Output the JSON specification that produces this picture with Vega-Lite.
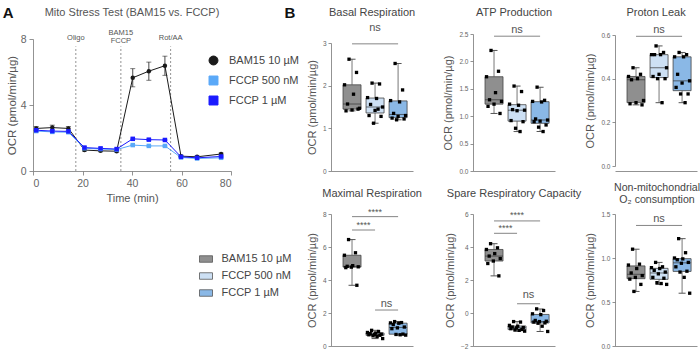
{
"$schema": "https://vega.github.io/schema/vega-lite/v6.json",
"padding": {"left": 2, "top": 5, "right": 2, "bottom": 3},
"config": {"font": "Liberation Sans", "view": {"stroke": null},
  "axis": {"grid": false, "domainColor": "#777", "tickColor": "#777", "labelColor": "#666", "titleColor": "#555", "titleFontWeight": "normal", "domainWidth": 0.8, "tickWidth": 0.8, "labelOverlap": false}},
"datasets": {
"one": [{"k": 1}],
"legendgroups": [{"g": "BAM15 10 µM"}, {"g": "FCCP 500 nM"}, {"g": "FCCP 1 µM"}],
"series": [
{"s":"BAM15 10 µM","t":1.3,"ocr":2.58,"sem":0.12},{"s":"BAM15 10 µM","t":7.8,"ocr":2.63,"sem":0.15},{"s":"BAM15 10 µM","t":14.3,"ocr":2.58,"sem":0.12},{"s":"BAM15 10 µM","t":20.8,"ocr":1.27,"sem":0.06},{"s":"BAM15 10 µM","t":27.3,"ocr":1.22,"sem":0.05},{"s":"BAM15 10 µM","t":33.8,"ocr":1.2,"sem":0.05},{"s":"BAM15 10 µM","t":40.3,"ocr":5.65,"sem":0.55},{"s":"BAM15 10 µM","t":46.8,"ocr":6.05,"sem":0.55},{"s":"BAM15 10 µM","t":53.3,"ocr":6.38,"sem":0.58},{"s":"BAM15 10 µM","t":59.8,"ocr":0.9,"sem":0.05},{"s":"BAM15 10 µM","t":66.3,"ocr":0.86,"sem":0.05},{"s":"BAM15 10 µM","t":76.0,"ocr":1.03,"sem":0.06},
{"s":"FCCP 500 nM","t":1.3,"ocr":2.42,"sem":0.04},{"s":"FCCP 500 nM","t":7.8,"ocr":2.37,"sem":0.04},{"s":"FCCP 500 nM","t":14.3,"ocr":2.35,"sem":0.04},{"s":"FCCP 500 nM","t":20.8,"ocr":1.38,"sem":0.04},{"s":"FCCP 500 nM","t":27.3,"ocr":1.33,"sem":0.04},{"s":"FCCP 500 nM","t":33.8,"ocr":1.3,"sem":0.04},{"s":"FCCP 500 nM","t":40.3,"ocr":1.57,"sem":0.04},{"s":"FCCP 500 nM","t":46.8,"ocr":1.52,"sem":0.04},{"s":"FCCP 500 nM","t":53.3,"ocr":1.52,"sem":0.04},{"s":"FCCP 500 nM","t":59.8,"ocr":0.82,"sem":0.03},{"s":"FCCP 500 nM","t":66.3,"ocr":0.76,"sem":0.03},{"s":"FCCP 500 nM","t":76.0,"ocr":0.8,"sem":0.03},
{"s":"FCCP 1 µM","t":1.3,"ocr":2.47,"sem":0.04},{"s":"FCCP 1 µM","t":7.8,"ocr":2.42,"sem":0.04},{"s":"FCCP 1 µM","t":14.3,"ocr":2.4,"sem":0.04},{"s":"FCCP 1 µM","t":20.8,"ocr":1.42,"sem":0.04},{"s":"FCCP 1 µM","t":27.3,"ocr":1.37,"sem":0.04},{"s":"FCCP 1 µM","t":33.8,"ocr":1.33,"sem":0.04},{"s":"FCCP 1 µM","t":40.3,"ocr":1.95,"sem":0.04},{"s":"FCCP 1 µM","t":46.8,"ocr":1.9,"sem":0.04},{"s":"FCCP 1 µM","t":53.3,"ocr":1.88,"sem":0.04},{"s":"FCCP 1 µM","t":59.8,"ocr":0.86,"sem":0.03},{"s":"FCCP 1 µM","t":66.3,"ocr":0.8,"sem":0.03},{"s":"FCCP 1 µM","t":76.0,"ocr":0.88,"sem":0.03}
],
"boxes": [
{"m":"Basal","g":"BAM15 10 µM","r":4,"v":2.62},{"m":"Basal","g":"BAM15 10 µM","r":9,"v":2.31},{"m":"Basal","g":"BAM15 10 µM","r":1,"v":2.02},{"m":"Basal","g":"BAM15 10 µM","r":7,"v":1.8},{"m":"Basal","g":"BAM15 10 µM","r":3,"v":1.57},{"m":"Basal","g":"BAM15 10 µM","r":11,"v":1.47},{"m":"Basal","g":"BAM15 10 µM","r":6,"v":1.43},{"m":"Basal","g":"BAM15 10 µM","r":2,"v":1.41},{"m":"Basal","g":"BAM15 10 µM","r":10,"v":1.45},
{"m":"Basal","g":"FCCP 500 nM","r":4,"v":2.06},{"m":"Basal","g":"FCCP 500 nM","r":9,"v":2.04},{"m":"Basal","g":"FCCP 500 nM","r":1,"v":1.72},{"m":"Basal","g":"FCCP 500 nM","r":7,"v":1.7},{"m":"Basal","g":"FCCP 500 nM","r":3,"v":1.56},{"m":"Basal","g":"FCCP 500 nM","r":11,"v":1.5},{"m":"Basal","g":"FCCP 500 nM","r":6,"v":1.42},{"m":"Basal","g":"FCCP 500 nM","r":2,"v":1.3},{"m":"Basal","g":"FCCP 500 nM","r":10,"v":1.28},{"m":"Basal","g":"FCCP 500 nM","r":5,"v":1.12},{"m":"Basal","g":"FCCP 500 nM","r":8,"v":1.45},
{"m":"Basal","g":"FCCP 1 µM","r":4,"v":2.52},{"m":"Basal","g":"FCCP 1 µM","r":9,"v":1.9},{"m":"Basal","g":"FCCP 1 µM","r":1,"v":1.65},{"m":"Basal","g":"FCCP 1 µM","r":7,"v":1.62},{"m":"Basal","g":"FCCP 1 µM","r":3,"v":1.35},{"m":"Basal","g":"FCCP 1 µM","r":11,"v":1.3},{"m":"Basal","g":"FCCP 1 µM","r":6,"v":1.28},{"m":"Basal","g":"FCCP 1 µM","r":2,"v":1.24},{"m":"Basal","g":"FCCP 1 µM","r":10,"v":1.22},{"m":"Basal","g":"FCCP 1 µM","r":5,"v":1.2},
{"m":"ATP","g":"BAM15 10 µM","r":4,"v":2.2},{"m":"ATP","g":"BAM15 10 µM","r":9,"v":1.82},{"m":"ATP","g":"BAM15 10 µM","r":1,"v":1.72},{"m":"ATP","g":"BAM15 10 µM","r":7,"v":1.43},{"m":"ATP","g":"BAM15 10 µM","r":3,"v":1.3},{"m":"ATP","g":"BAM15 10 µM","r":11,"v":1.27},{"m":"ATP","g":"BAM15 10 µM","r":6,"v":1.22},{"m":"ATP","g":"BAM15 10 µM","r":2,"v":1.18},{"m":"ATP","g":"BAM15 10 µM","r":10,"v":1.05},
{"m":"ATP","g":"FCCP 500 nM","r":4,"v":1.55},{"m":"ATP","g":"FCCP 500 nM","r":9,"v":1.45},{"m":"ATP","g":"FCCP 500 nM","r":1,"v":1.22},{"m":"ATP","g":"FCCP 500 nM","r":7,"v":1.2},{"m":"ATP","g":"FCCP 500 nM","r":3,"v":1.12},{"m":"ATP","g":"FCCP 500 nM","r":11,"v":1.11},{"m":"ATP","g":"FCCP 500 nM","r":6,"v":1.1},{"m":"ATP","g":"FCCP 500 nM","r":2,"v":0.92},{"m":"ATP","g":"FCCP 500 nM","r":10,"v":0.9},{"m":"ATP","g":"FCCP 500 nM","r":5,"v":0.78},{"m":"ATP","g":"FCCP 500 nM","r":8,"v":0.72},
{"m":"ATP","g":"FCCP 1 µM","r":4,"v":1.53},{"m":"ATP","g":"FCCP 1 µM","r":9,"v":1.29},{"m":"ATP","g":"FCCP 1 µM","r":1,"v":1.27},{"m":"ATP","g":"FCCP 1 µM","r":7,"v":1.26},{"m":"ATP","g":"FCCP 1 µM","r":3,"v":0.95},{"m":"ATP","g":"FCCP 1 µM","r":11,"v":0.93},{"m":"ATP","g":"FCCP 1 µM","r":6,"v":0.91},{"m":"ATP","g":"FCCP 1 µM","r":2,"v":0.9},{"m":"ATP","g":"FCCP 1 µM","r":10,"v":0.84},{"m":"ATP","g":"FCCP 1 µM","r":5,"v":0.8},{"m":"ATP","g":"FCCP 1 µM","r":8,"v":0.72},
{"m":"Leak","g":"BAM15 10 µM","r":4,"v":0.45},{"m":"Leak","g":"BAM15 10 µM","r":9,"v":0.42},{"m":"Leak","g":"BAM15 10 µM","r":1,"v":0.41},{"m":"Leak","g":"BAM15 10 µM","r":7,"v":0.4},{"m":"Leak","g":"BAM15 10 µM","r":3,"v":0.395},{"m":"Leak","g":"BAM15 10 µM","r":11,"v":0.3},{"m":"Leak","g":"BAM15 10 µM","r":6,"v":0.29},{"m":"Leak","g":"BAM15 10 µM","r":2,"v":0.285},{"m":"Leak","g":"BAM15 10 µM","r":10,"v":0.28},
{"m":"Leak","g":"FCCP 500 nM","r":4,"v":0.55},{"m":"Leak","g":"FCCP 500 nM","r":9,"v":0.52},{"m":"Leak","g":"FCCP 500 nM","r":1,"v":0.51},{"m":"Leak","g":"FCCP 500 nM","r":7,"v":0.51},{"m":"Leak","g":"FCCP 500 nM","r":3,"v":0.51},{"m":"Leak","g":"FCCP 500 nM","r":11,"v":0.45},{"m":"Leak","g":"FCCP 500 nM","r":6,"v":0.42},{"m":"Leak","g":"FCCP 500 nM","r":2,"v":0.41},{"m":"Leak","g":"FCCP 500 nM","r":10,"v":0.4},{"m":"Leak","g":"FCCP 500 nM","r":5,"v":0.4},{"m":"Leak","g":"FCCP 500 nM","r":8,"v":0.29},
{"m":"Leak","g":"FCCP 1 µM","r":4,"v":0.52},{"m":"Leak","g":"FCCP 1 µM","r":9,"v":0.51},{"m":"Leak","g":"FCCP 1 µM","r":1,"v":0.5},{"m":"Leak","g":"FCCP 1 µM","r":7,"v":0.5},{"m":"Leak","g":"FCCP 1 µM","r":3,"v":0.42},{"m":"Leak","g":"FCCP 1 µM","r":11,"v":0.39},{"m":"Leak","g":"FCCP 1 µM","r":6,"v":0.38},{"m":"Leak","g":"FCCP 1 µM","r":2,"v":0.36},{"m":"Leak","g":"FCCP 1 µM","r":10,"v":0.33},{"m":"Leak","g":"FCCP 1 µM","r":5,"v":0.33},{"m":"Leak","g":"FCCP 1 µM","r":8,"v":0.29},
{"m":"Max","g":"BAM15 10 µM","r":4,"v":6.45},{"m":"Max","g":"BAM15 10 µM","r":9,"v":5.65},{"m":"Max","g":"BAM15 10 µM","r":1,"v":5.5},{"m":"Max","g":"BAM15 10 µM","r":7,"v":4.87},{"m":"Max","g":"BAM15 10 µM","r":3,"v":4.83},{"m":"Max","g":"BAM15 10 µM","r":11,"v":4.8},{"m":"Max","g":"BAM15 10 µM","r":6,"v":4.78},{"m":"Max","g":"BAM15 10 µM","r":2,"v":4.75},{"m":"Max","g":"BAM15 10 µM","r":10,"v":3.68},
{"m":"Max","g":"FCCP 500 nM","r":4,"v":0.95},{"m":"Max","g":"FCCP 500 nM","r":9,"v":0.88},{"m":"Max","g":"FCCP 500 nM","r":1,"v":0.82},{"m":"Max","g":"FCCP 500 nM","r":7,"v":0.78},{"m":"Max","g":"FCCP 500 nM","r":3,"v":0.75},{"m":"Max","g":"FCCP 500 nM","r":11,"v":0.72},{"m":"Max","g":"FCCP 500 nM","r":6,"v":0.7},{"m":"Max","g":"FCCP 500 nM","r":2,"v":0.68},{"m":"Max","g":"FCCP 500 nM","r":10,"v":0.65},{"m":"Max","g":"FCCP 500 nM","r":5,"v":0.62},{"m":"Max","g":"FCCP 500 nM","r":8,"v":0.58},{"m":"Max","g":"FCCP 500 nM","r":12,"v":0.45},
{"m":"Max","g":"FCCP 1 µM","r":4,"v":1.48},{"m":"Max","g":"FCCP 1 µM","r":9,"v":1.42},{"m":"Max","g":"FCCP 1 µM","r":1,"v":1.4},{"m":"Max","g":"FCCP 1 µM","r":7,"v":1.38},{"m":"Max","g":"FCCP 1 µM","r":3,"v":1.3},{"m":"Max","g":"FCCP 1 µM","r":11,"v":1.15},{"m":"Max","g":"FCCP 1 µM","r":6,"v":1.1},{"m":"Max","g":"FCCP 1 µM","r":2,"v":1.05},{"m":"Max","g":"FCCP 1 µM","r":10,"v":0.72},{"m":"Max","g":"FCCP 1 µM","r":5,"v":0.7},{"m":"Max","g":"FCCP 1 µM","r":8,"v":0.68},{"m":"Max","g":"FCCP 1 µM","r":12,"v":0.66},
{"m":"Spare","g":"BAM15 10 µM","r":4,"v":4.2},{"m":"Spare","g":"BAM15 10 µM","r":9,"v":3.95},{"m":"Spare","g":"BAM15 10 µM","r":1,"v":3.85},{"m":"Spare","g":"BAM15 10 µM","r":7,"v":3.6},{"m":"Spare","g":"BAM15 10 µM","r":3,"v":3.45},{"m":"Spare","g":"BAM15 10 µM","r":11,"v":3.3},{"m":"Spare","g":"BAM15 10 µM","r":6,"v":3.15},{"m":"Spare","g":"BAM15 10 µM","r":2,"v":3.0},{"m":"Spare","g":"BAM15 10 µM","r":10,"v":2.25},
{"m":"Spare","g":"FCCP 500 nM","r":4,"v":-0.52},{"m":"Spare","g":"FCCP 500 nM","r":9,"v":-0.55},{"m":"Spare","g":"FCCP 500 nM","r":1,"v":-0.75},{"m":"Spare","g":"FCCP 500 nM","r":7,"v":-0.8},{"m":"Spare","g":"FCCP 500 nM","r":3,"v":-0.85},{"m":"Spare","g":"FCCP 500 nM","r":11,"v":-0.88},{"m":"Spare","g":"FCCP 500 nM","r":6,"v":-0.9},{"m":"Spare","g":"FCCP 500 nM","r":2,"v":-0.95},{"m":"Spare","g":"FCCP 500 nM","r":10,"v":-1.0},{"m":"Spare","g":"FCCP 500 nM","r":5,"v":-1.02},{"m":"Spare","g":"FCCP 500 nM","r":8,"v":-1.05},{"m":"Spare","g":"FCCP 500 nM","r":12,"v":-1.1},
{"m":"Spare","g":"FCCP 1 µM","r":4,"v":0.25},{"m":"Spare","g":"FCCP 1 µM","r":9,"v":0.15},{"m":"Spare","g":"FCCP 1 µM","r":1,"v":-0.05},{"m":"Spare","g":"FCCP 1 µM","r":7,"v":-0.1},{"m":"Spare","g":"FCCP 1 µM","r":3,"v":-0.45},{"m":"Spare","g":"FCCP 1 µM","r":11,"v":-0.5},{"m":"Spare","g":"FCCP 1 µM","r":6,"v":-0.52},{"m":"Spare","g":"FCCP 1 µM","r":2,"v":-0.55},{"m":"Spare","g":"FCCP 1 µM","r":10,"v":-0.6},{"m":"Spare","g":"FCCP 1 µM","r":5,"v":-0.62},{"m":"Spare","g":"FCCP 1 µM","r":8,"v":-0.8},{"m":"Spare","g":"FCCP 1 µM","r":12,"v":-1.12},
{"m":"NonMito","g":"BAM15 10 µM","r":4,"v":1.1},{"m":"NonMito","g":"BAM15 10 µM","r":9,"v":0.93},{"m":"NonMito","g":"BAM15 10 µM","r":1,"v":0.92},{"m":"NonMito","g":"BAM15 10 µM","r":7,"v":0.88},{"m":"NonMito","g":"BAM15 10 µM","r":3,"v":0.83},{"m":"NonMito","g":"BAM15 10 µM","r":11,"v":0.8},{"m":"NonMito","g":"BAM15 10 µM","r":6,"v":0.78},{"m":"NonMito","g":"BAM15 10 µM","r":2,"v":0.76},{"m":"NonMito","g":"BAM15 10 µM","r":10,"v":0.7},{"m":"NonMito","g":"BAM15 10 µM","r":5,"v":0.62},
{"m":"NonMito","g":"FCCP 500 nM","r":4,"v":0.95},{"m":"NonMito","g":"FCCP 500 nM","r":9,"v":0.9},{"m":"NonMito","g":"FCCP 500 nM","r":1,"v":0.89},{"m":"NonMito","g":"FCCP 500 nM","r":7,"v":0.88},{"m":"NonMito","g":"FCCP 500 nM","r":3,"v":0.86},{"m":"NonMito","g":"FCCP 500 nM","r":11,"v":0.84},{"m":"NonMito","g":"FCCP 500 nM","r":6,"v":0.82},{"m":"NonMito","g":"FCCP 500 nM","r":2,"v":0.78},{"m":"NonMito","g":"FCCP 500 nM","r":10,"v":0.77},{"m":"NonMito","g":"FCCP 500 nM","r":5,"v":0.72},{"m":"NonMito","g":"FCCP 500 nM","r":8,"v":0.71},{"m":"NonMito","g":"FCCP 500 nM","r":12,"v":0.7},
{"m":"NonMito","g":"FCCP 1 µM","r":4,"v":1.22},{"m":"NonMito","g":"FCCP 1 µM","r":9,"v":1.06},{"m":"NonMito","g":"FCCP 1 µM","r":1,"v":1.0},{"m":"NonMito","g":"FCCP 1 µM","r":7,"v":0.99},{"m":"NonMito","g":"FCCP 1 µM","r":3,"v":0.98},{"m":"NonMito","g":"FCCP 1 µM","r":11,"v":0.95},{"m":"NonMito","g":"FCCP 1 µM","r":6,"v":0.94},{"m":"NonMito","g":"FCCP 1 µM","r":2,"v":0.9},{"m":"NonMito","g":"FCCP 1 µM","r":10,"v":0.85},{"m":"NonMito","g":"FCCP 1 µM","r":5,"v":0.84},{"m":"NonMito","g":"FCCP 1 µM","r":8,"v":0.78},{"m":"NonMito","g":"FCCP 1 µM","r":12,"v":0.6}
]
},
"columns": 4,
"bounds": "flush",
"align": "each",
"spacing": {"row": 43, "column": 60},
"resolve": {"scale": {"color": "independent", "x": "independent", "y": "independent", "shape": "independent", "xOffset": "independent"}, "legend": {"color": "independent", "shape": "independent"}},
"concat": [
{
 "width": 238, "height": 137,
 "layer": [
  {"data": {"name": "one"}, "mark": {"type": "rule", "strokeDash": [2, 2], "color": "#777", "strokeWidth": 0.8}, "encoding": {"x": {"datum": 17.3, "type": "quantitative", "scale": {"domain": [0, 80], "range": [0, 198], "nice": false}}, "y": {"datum": 0, "type": "quantitative", "scale": {"domain": [0, 8], "range": [137, 5], "nice": false}}, "y2": {"datum": 7.55}}},
  {"data": {"name": "one"}, "mark": {"type": "rule", "strokeDash": [2, 2], "color": "#777", "strokeWidth": 0.8}, "encoding": {"x": {"datum": 35.5, "type": "quantitative"}, "y": {"datum": 0, "type": "quantitative"}, "y2": {"datum": 7.55}}},
  {"data": {"name": "one"}, "mark": {"type": "rule", "strokeDash": [2, 2], "color": "#777", "strokeWidth": 0.8}, "encoding": {"x": {"datum": 55.6, "type": "quantitative"}, "y": {"datum": 0, "type": "quantitative"}, "y2": {"datum": 7.55}}},
  {"data": {"name": "one"}, "mark": {"type": "text", "text": "Oligo", "fontSize": 7.5, "color": "#555", "baseline": "middle"}, "encoding": {"x": {"datum": 17.3, "type": "quantitative"}, "y": {"datum": 8.06, "type": "quantitative"}}},
  {"data": {"name": "one"}, "mark": {"type": "text", "text": "BAM15", "fontSize": 7.5, "color": "#555", "baseline": "middle"}, "encoding": {"x": {"datum": 35.5, "type": "quantitative"}, "y": {"datum": 8.35, "type": "quantitative"}}},
  {"data": {"name": "one"}, "mark": {"type": "text", "text": "FCCP", "fontSize": 7.5, "color": "#555", "baseline": "middle"}, "encoding": {"x": {"datum": 35.5, "type": "quantitative"}, "y": {"datum": 7.85, "type": "quantitative"}}},
  {"data": {"name": "one"}, "mark": {"type": "text", "text": "Rot/AA", "fontSize": 7.5, "color": "#555", "baseline": "middle"}, "encoding": {"x": {"datum": 55.6, "type": "quantitative"}, "y": {"datum": 8.06, "type": "quantitative"}}},
  {"data": {"name": "series"},
   "mark": {"type": "errorbar", "ticks": {"size": 5}, "thickness": 0.8},
   "encoding": {"x": {"field": "t", "type": "quantitative", "title": "Time (min)"}, "y": {"field": "ocr", "type": "quantitative", "title": "OCR (pmol/min/µg)"}, "yError": {"field": "sem"},
     "color": {"field": "s", "type": "nominal", "scale": {"domain": ["BAM15 10 µM", "FCCP 500 nM", "FCCP 1 µM"], "range": ["#1a1a1a", "#5aa9f8", "#1a1aff"]},
     "legend": {"orient": "none", "legendX": 175, "legendY": 21, "title": null, "labelFontSize": 11, "labelColor": "#444", "symbolSize": 80, "symbolStrokeWidth": 1, "rowPadding": 7, "labelOffset": 10,
       "encode": {"symbols": {"update": {
         "shape": [{"test": "datum.value === 'BAM15 10 µM'", "value": "M-1.5,0H1.5M0.45,0A0.45,0.45,0,1,1,-0.45,0A0.45,0.45,0,1,1,0.45,0Z"}, {"value": "M-1.5,0H1.5M-0.45,-0.45H0.45V0.45H-0.45Z"}],
         "fill": [{"test": "datum.value === 'BAM15 10 µM'", "value": "#1a1a1a"}, {"test": "datum.value === 'FCCP 500 nM'", "value": "#5aa9f8"}, {"value": "#1a1aff"}],
         "stroke": [{"test": "datum.value === 'BAM15 10 µM'", "value": "#1a1a1a"}, {"test": "datum.value === 'FCCP 500 nM'", "value": "#5aa9f8"}, {"value": "#1a1aff"}],
         "size": {"value": 80}, "strokeWidth": {"value": 1}, "opacity": {"value": 1}}}}}}}},
  {"data": {"name": "series"},
   "mark": {"type": "line", "strokeWidth": 1},
   "encoding": {
     "x": {"field": "t", "type": "quantitative", "title": "Time (min)", "scale": {"domain": [0, 80], "range": [0, 198], "nice": false}, "axis": {"values": [0, 20, 40, 60, 80], "labelFontSize": 10.5, "titleFontSize": 11, "tickSize": 4, "labelPadding": 3, "titlePadding": 4, "labelOverlap": false}},
     "y": {"field": "ocr", "type": "quantitative", "title": "OCR (pmol/min/µg)", "scale": {"domain": [0, 8], "range": [137, 5], "nice": false}, "axis": {"values": [0, 2, 4, 6, 8], "labelFontSize": 10.5, "titleFontSize": 11.5, "tickSize": 4, "labelPadding": 3, "titlePadding": 3, "labelOverlap": false}},
     "color": {"field": "s", "type": "nominal", "scale": {"domain": ["BAM15 10 µM", "FCCP 500 nM", "FCCP 1 µM"], "range": ["#1a1a1a", "#5aa9f8", "#1a1aff"]},
     "legend": {"orient": "none", "legendX": 175, "legendY": 21, "title": null, "labelFontSize": 11, "labelColor": "#444", "symbolSize": 80, "symbolStrokeWidth": 1, "rowPadding": 7, "labelOffset": 10,
       "encode": {"symbols": {"update": {
         "shape": [{"test": "datum.value === 'BAM15 10 µM'", "value": "M-1.5,0H1.5M0.45,0A0.45,0.45,0,1,1,-0.45,0A0.45,0.45,0,1,1,0.45,0Z"}, {"value": "M-1.5,0H1.5M-0.45,-0.45H0.45V0.45H-0.45Z"}],
         "fill": [{"test": "datum.value === 'BAM15 10 µM'", "value": "#1a1a1a"}, {"test": "datum.value === 'FCCP 500 nM'", "value": "#5aa9f8"}, {"value": "#1a1aff"}],
         "stroke": [{"test": "datum.value === 'BAM15 10 µM'", "value": "#1a1a1a"}, {"test": "datum.value === 'FCCP 500 nM'", "value": "#5aa9f8"}, {"value": "#1a1aff"}],
         "size": {"value": 80}, "strokeWidth": {"value": 1}, "opacity": {"value": 1}}}}}}}},
  {"data": {"name": "series"},
   "mark": {"type": "point", "filled": true, "opacity": 1, "size": 20},
   "encoding": {"x": {"field": "t", "type": "quantitative", "title": "Time (min)"}, "y": {"field": "ocr", "type": "quantitative", "title": "OCR (pmol/min/µg)"},
     "color": {"field": "s", "type": "nominal", "scale": {"domain": ["BAM15 10 µM", "FCCP 500 nM", "FCCP 1 µM"], "range": ["#1a1a1a", "#5aa9f8", "#1a1aff"]},
     "legend": {"orient": "none", "legendX": 175, "legendY": 21, "title": null, "labelFontSize": 11, "labelColor": "#444", "symbolSize": 80, "symbolStrokeWidth": 1, "rowPadding": 7, "labelOffset": 10,
       "encode": {"symbols": {"update": {
         "shape": [{"test": "datum.value === 'BAM15 10 µM'", "value": "M-1.5,0H1.5M0.45,0A0.45,0.45,0,1,1,-0.45,0A0.45,0.45,0,1,1,0.45,0Z"}, {"value": "M-1.5,0H1.5M-0.45,-0.45H0.45V0.45H-0.45Z"}],
         "fill": [{"test": "datum.value === 'BAM15 10 µM'", "value": "#1a1a1a"}, {"test": "datum.value === 'FCCP 500 nM'", "value": "#5aa9f8"}, {"value": "#1a1aff"}],
         "stroke": [{"test": "datum.value === 'BAM15 10 µM'", "value": "#1a1a1a"}, {"test": "datum.value === 'FCCP 500 nM'", "value": "#5aa9f8"}, {"value": "#1a1aff"}],
         "size": {"value": 80}, "strokeWidth": {"value": 1}, "opacity": {"value": 1}}}}}},
     "shape": {"field": "s", "type": "nominal", "scale": {"domain": ["BAM15 10 µM", "FCCP 500 nM", "FCCP 1 µM"], "range": ["circle", "square", "square"]}, "legend": null}}},
  {"data": {"name": "one"}, "mark": {"type": "text", "text": "Mito Stress Test (BAM15 vs. FCCP)", "fontSize": 11, "color": "#555", "baseline": "middle"},
   "encoding": {"x": {"datum": 40, "type": "quantitative"}, "y": {"datum": 9.58, "type": "quantitative"}}},
  {"data": {"name": "one"}, "mark": {"type": "text", "text": "A", "fontSize": 15, "fontWeight": "bold", "color": "#111", "baseline": "middle"},
   "encoding": {"x": {"datum": -10, "type": "quantitative"}, "y": {"datum": 9.6, "type": "quantitative"}}},
  {"data": {"name": "one"}, "mark": {"type": "text", "text": "B", "fontSize": 15, "fontWeight": "bold", "color": "#111", "baseline": "middle"},
   "encoding": {"x": {"datum": 103.8, "type": "quantitative"}, "y": {"datum": 9.6, "type": "quantitative"}}}
 ]
},
{
 "width": 82, "height": 137,
 "layer": [
  {"data": {"name": "boxes"}, "transform": [{"filter": "datum.m === 'Basal'"}],
   "mark": {"type": "boxplot", "extent": "min-max", "size": 18, "box": {"stroke": "#444", "strokeWidth": 0.8}, "median": {"color": "#333", "strokeWidth": 1}, "rule": {"color": "#555", "strokeWidth": 0.8}, "ticks": {"color": "#555", "size": 7}},
   "encoding": {
    "x": {"field": "g", "type": "nominal", "scale": {"domain": ["BAM15 10 µM", "FCCP 500 nM", "FCCP 1 µM"], "paddingInner": 0.22, "paddingOuter": 0.39, "align": 0.67}, "axis": {"labels": false, "ticks": false, "title": null}},
    "y": {"field": "v", "type": "quantitative", "title": "OCR (pmol/min/µg)", "scale": {"domain": [0, 3], "range": [137, 9], "nice": false}, "axis": {"values": [0, 1, 2, 3], "format": "d", "titleFontSize": 11, "labelFontSize": 6.5, "tickSize": 3, "labelPadding": 2, "titlePadding": 5, "labelOverlap": false}},
    "color": {"field": "g", "type": "nominal", "scale": {"domain": ["BAM15 10 µM", "FCCP 500 nM", "FCCP 1 µM"], "range": ["#8f8f8f", "#cde0f4", "#8ab8e6"]}, "legend": null}}},
  {"data": {"name": "boxes"}, "transform": [{"filter": "datum.m === 'Basal'"}],
   "mark": {"type": "square", "size": 11, "color": "#000", "opacity": 1},
   "encoding": {"x": {"field": "g", "type": "nominal"}, "y": {"field": "v", "type": "quantitative", "title": "OCR (pmol/min/µg)", "scale": {"domain": [0, 3], "range": [137, 9], "nice": false}, "axis": {"values": [0, 1, 2, 3], "format": "d", "titleFontSize": 11, "labelFontSize": 6.5, "tickSize": 3, "labelPadding": 2, "titlePadding": 5, "labelOverlap": false}}, "xOffset": {"field": "r", "type": "nominal", "scale": {"paddingOuter": 1.5}}}},
  {"data": {"name": "one"}, "mark": {"type": "rule", "color": "#666", "strokeWidth": 0.8},
   "encoding": {"x": {"datum": "BAM15 10 µM"}, "x2": {"datum": "FCCP 1 µM"}, "y": {"datum": 2.98, "type": "quantitative", "title": "OCR (pmol/min/µg)", "scale": {"domain": [0, 3], "range": [137, 9], "nice": false}, "axis": {"values": [0, 1, 2, 3], "format": "d", "titleFontSize": 11, "labelFontSize": 6.5, "tickSize": 3, "labelPadding": 2, "titlePadding": 5, "labelOverlap": false}}}},
  {"data": {"name": "one"}, "mark": {"type": "text", "text": "ns", "fontSize": 11, "color": "#555", "baseline": "alphabetic"},
   "encoding": {"x": {"datum": "FCCP 500 nM"}, "y": {"datum": 3.27, "type": "quantitative", "title": "OCR (pmol/min/µg)", "scale": {"domain": [0, 3], "range": [137, 9], "nice": false}, "axis": {"values": [0, 1, 2, 3], "format": "d", "titleFontSize": 11, "labelFontSize": 6.5, "tickSize": 3, "labelPadding": 2, "titlePadding": 5, "labelOverlap": false}}}},
  {"data": {"name": "one"}, "mark": {"type": "text", "text": "Basal  Respiration", "fontSize": 11, "color": "#444", "baseline": "middle", "dx": -3},
   "encoding": {"x": {"datum": "FCCP 500 nM"}, "y": {"datum": 3.7, "type": "quantitative", "title": "OCR (pmol/min/µg)", "scale": {"domain": [0, 3], "range": [137, 9], "nice": false}, "axis": {"values": [0, 1, 2, 3], "format": "d", "titleFontSize": 11, "labelFontSize": 6.5, "tickSize": 3, "labelPadding": 2, "titlePadding": 5, "labelOverlap": false}}}}
 ]
},
{
 "width": 82, "height": 137,
 "layer": [
  {"data": {"name": "boxes"}, "transform": [{"filter": "datum.m === 'ATP'"}],
   "mark": {"type": "boxplot", "extent": "min-max", "size": 18, "box": {"stroke": "#444", "strokeWidth": 0.8}, "median": {"color": "#333", "strokeWidth": 1}, "rule": {"color": "#555", "strokeWidth": 0.8}, "ticks": {"color": "#555", "size": 7}},
   "encoding": {
    "x": {"field": "g", "type": "nominal", "scale": {"domain": ["BAM15 10 µM", "FCCP 500 nM", "FCCP 1 µM"], "paddingInner": 0.22, "paddingOuter": 0.39, "align": 0.67}, "axis": {"labels": false, "ticks": false, "title": null}},
    "y": {"field": "v", "type": "quantitative", "title": "OCR (pmol/min/µg)", "scale": {"domain": [0, 2.5], "range": [137, 0], "nice": false}, "axis": {"values": [0, 0.5, 1, 1.5, 2, 2.5], "format": ".1f", "titleFontSize": 11, "labelFontSize": 6.5, "tickSize": 3, "labelPadding": 2, "titlePadding": 5, "labelOverlap": false}},
    "color": {"field": "g", "type": "nominal", "scale": {"domain": ["BAM15 10 µM", "FCCP 500 nM", "FCCP 1 µM"], "range": ["#8f8f8f", "#cde0f4", "#8ab8e6"]}, "legend": null}}},
  {"data": {"name": "boxes"}, "transform": [{"filter": "datum.m === 'ATP'"}],
   "mark": {"type": "square", "size": 11, "color": "#000", "opacity": 1},
   "encoding": {"x": {"field": "g", "type": "nominal"}, "y": {"field": "v", "type": "quantitative", "title": "OCR (pmol/min/µg)", "scale": {"domain": [0, 2.5], "range": [137, 0], "nice": false}, "axis": {"values": [0, 0.5, 1, 1.5, 2, 2.5], "format": ".1f", "titleFontSize": 11, "labelFontSize": 6.5, "tickSize": 3, "labelPadding": 2, "titlePadding": 5, "labelOverlap": false}}, "xOffset": {"field": "r", "type": "nominal", "scale": {"paddingOuter": 1.5}}}},
  {"data": {"name": "one"}, "mark": {"type": "rule", "color": "#666", "strokeWidth": 0.8},
   "encoding": {"x": {"datum": "BAM15 10 µM"}, "x2": {"datum": "FCCP 1 µM"}, "y": {"datum": 2.46, "type": "quantitative", "title": "OCR (pmol/min/µg)", "scale": {"domain": [0, 2.5], "range": [137, 0], "nice": false}, "axis": {"values": [0, 0.5, 1, 1.5, 2, 2.5], "format": ".1f", "titleFontSize": 11, "labelFontSize": 6.5, "tickSize": 3, "labelPadding": 2, "titlePadding": 5, "labelOverlap": false}}}},
  {"data": {"name": "one"}, "mark": {"type": "text", "text": "ns", "fontSize": 11, "color": "#555", "baseline": "alphabetic"},
   "encoding": {"x": {"datum": "FCCP 500 nM"}, "y": {"datum": 2.52, "type": "quantitative", "title": "OCR (pmol/min/µg)", "scale": {"domain": [0, 2.5], "range": [137, 0], "nice": false}, "axis": {"values": [0, 0.5, 1, 1.5, 2, 2.5], "format": ".1f", "titleFontSize": 11, "labelFontSize": 6.5, "tickSize": 3, "labelPadding": 2, "titlePadding": 5, "labelOverlap": false}}}},
  {"data": {"name": "one"}, "mark": {"type": "text", "text": "ATP Production", "fontSize": 11, "color": "#444", "baseline": "middle", "dx": -3},
   "encoding": {"x": {"datum": "FCCP 500 nM"}, "y": {"datum": 2.883, "type": "quantitative", "title": "OCR (pmol/min/µg)", "scale": {"domain": [0, 2.5], "range": [137, 0], "nice": false}, "axis": {"values": [0, 0.5, 1, 1.5, 2, 2.5], "format": ".1f", "titleFontSize": 11, "labelFontSize": 6.5, "tickSize": 3, "labelPadding": 2, "titlePadding": 5, "labelOverlap": false}}}}
 ]
},
{
 "width": 82, "height": 137,
 "layer": [
  {"data": {"name": "boxes"}, "transform": [{"filter": "datum.m === 'Leak'"}],
   "mark": {"type": "boxplot", "extent": "min-max", "size": 18, "box": {"stroke": "#444", "strokeWidth": 0.8}, "median": {"color": "#333", "strokeWidth": 1}, "rule": {"color": "#555", "strokeWidth": 0.8}, "ticks": {"color": "#555", "size": 7}},
   "encoding": {
    "x": {"field": "g", "type": "nominal", "scale": {"domain": ["BAM15 10 µM", "FCCP 500 nM", "FCCP 1 µM"], "paddingInner": 0.22, "paddingOuter": 0.39, "align": 0.67}, "axis": {"labels": false, "ticks": false, "title": null}},
    "y": {"field": "v", "type": "quantitative", "title": "OCR (pmol/min/µg)", "scale": {"domain": [0, 0.6], "range": [132, 1], "nice": false}, "axis": {"values": [0, 0.2, 0.4, 0.6], "format": ".1f", "titleFontSize": 11, "labelFontSize": 6.5, "tickSize": 3, "labelPadding": 2, "titlePadding": 5, "labelOverlap": false}},
    "color": {"field": "g", "type": "nominal", "scale": {"domain": ["BAM15 10 µM", "FCCP 500 nM", "FCCP 1 µM"], "range": ["#8f8f8f", "#cde0f4", "#8ab8e6"]}, "legend": null}}},
  {"data": {"name": "boxes"}, "transform": [{"filter": "datum.m === 'Leak'"}],
   "mark": {"type": "square", "size": 11, "color": "#000", "opacity": 1},
   "encoding": {"x": {"field": "g", "type": "nominal"}, "y": {"field": "v", "type": "quantitative", "title": "OCR (pmol/min/µg)", "scale": {"domain": [0, 0.6], "range": [132, 1], "nice": false}, "axis": {"values": [0, 0.2, 0.4, 0.6], "format": ".1f", "titleFontSize": 11, "labelFontSize": 6.5, "tickSize": 3, "labelPadding": 2, "titlePadding": 5, "labelOverlap": false}}, "xOffset": {"field": "r", "type": "nominal", "scale": {"paddingOuter": 1.5}}}},
  {"data": {"name": "one"}, "mark": {"type": "rule", "color": "#666", "strokeWidth": 0.8},
   "encoding": {"x": {"datum": "BAM15 10 µM"}, "x2": {"datum": "FCCP 1 µM"}, "y": {"datum": 0.594, "type": "quantitative", "title": "OCR (pmol/min/µg)", "scale": {"domain": [0, 0.6], "range": [132, 1], "nice": false}, "axis": {"values": [0, 0.2, 0.4, 0.6], "format": ".1f", "titleFontSize": 11, "labelFontSize": 6.5, "tickSize": 3, "labelPadding": 2, "titlePadding": 5, "labelOverlap": false}}}},
  {"data": {"name": "one"}, "mark": {"type": "text", "text": "ns", "fontSize": 11, "color": "#555", "baseline": "alphabetic"},
   "encoding": {"x": {"datum": "FCCP 500 nM"}, "y": {"datum": 0.607, "type": "quantitative", "title": "OCR (pmol/min/µg)", "scale": {"domain": [0, 0.6], "range": [132, 1], "nice": false}, "axis": {"values": [0, 0.2, 0.4, 0.6], "format": ".1f", "titleFontSize": 11, "labelFontSize": 6.5, "tickSize": 3, "labelPadding": 2, "titlePadding": 5, "labelOverlap": false}}}},
  {"data": {"name": "one"}, "mark": {"type": "text", "text": "Proton Leak", "fontSize": 11, "color": "#444", "baseline": "middle", "dx": -3},
   "encoding": {"x": {"datum": "FCCP 500 nM"}, "y": {"datum": 0.701, "type": "quantitative", "title": "OCR (pmol/min/µg)", "scale": {"domain": [0, 0.6], "range": [132, 1], "nice": false}, "axis": {"values": [0, 0.2, 0.4, 0.6], "format": ".1f", "titleFontSize": 11, "labelFontSize": 6.5, "tickSize": 3, "labelPadding": 2, "titlePadding": 5, "labelOverlap": false}}}}
 ]
},
{
 "width": 238, "height": 132,
 "data": {"name": "legendgroups"},
 "mark": {"type": "square", "size": 0, "opacity": 1},
 "encoding": {"color": {"field": "g", "type": "nominal", "scale": {"domain": ["BAM15 10 µM", "FCCP 500 nM", "FCCP 1 µM"], "range": ["#8f8f8f", "#cde0f4", "#8ab8e6"]},
   "legend": {"orient": "none", "legendX": 166, "legendY": 38, "title": null, "labelFontSize": 11, "labelColor": "#444", "symbolSize": 169, "rowPadding": 5, "labelOffset": 8.5,
     "symbolType": "M-1,-0.5H1V0.5H-1Z", "symbolStrokeColor": "#555", "symbolStrokeWidth": 0.8,
     "encode": {"symbols": {"update": {"shape": {"value": "M-1,-0.5H1V0.5H-1Z"}, "stroke": {"value": "#555"}, "strokeWidth": {"value": 0.8}, "opacity": {"value": 1}}}}}}}
},
{
 "width": 82, "height": 132,
 "layer": [
  {"data": {"name": "boxes"}, "transform": [{"filter": "datum.m === 'Max'"}],
   "mark": {"type": "boxplot", "extent": "min-max", "size": 18, "box": {"stroke": "#444", "strokeWidth": 0.8}, "median": {"color": "#333", "strokeWidth": 1}, "rule": {"color": "#555", "strokeWidth": 0.8}, "ticks": {"color": "#555", "size": 7}},
   "encoding": {
    "x": {"field": "g", "type": "nominal", "scale": {"domain": ["BAM15 10 µM", "FCCP 500 nM", "FCCP 1 µM"], "paddingInner": 0.22, "paddingOuter": 0.39, "align": 0.67}, "axis": {"labels": false, "ticks": false, "title": null}},
    "y": {"field": "v", "type": "quantitative", "title": "OCR (pmol/min/µg)", "scale": {"domain": [0, 8], "range": [132, 0], "nice": false}, "axis": {"values": [0, 2, 4, 6, 8], "format": "d", "titleFontSize": 11, "labelFontSize": 6.5, "tickSize": 3, "labelPadding": 2, "titlePadding": 5, "labelOverlap": false}},
    "color": {"field": "g", "type": "nominal", "scale": {"domain": ["BAM15 10 µM", "FCCP 500 nM", "FCCP 1 µM"], "range": ["#8f8f8f", "#cde0f4", "#8ab8e6"]}, "legend": null}}},
  {"data": {"name": "boxes"}, "transform": [{"filter": "datum.m === 'Max'"}],
   "mark": {"type": "square", "size": 11, "color": "#000", "opacity": 1},
   "encoding": {"x": {"field": "g", "type": "nominal"}, "y": {"field": "v", "type": "quantitative", "title": "OCR (pmol/min/µg)", "scale": {"domain": [0, 8], "range": [132, 0], "nice": false}, "axis": {"values": [0, 2, 4, 6, 8], "format": "d", "titleFontSize": 11, "labelFontSize": 6.5, "tickSize": 3, "labelPadding": 2, "titlePadding": 5, "labelOverlap": false}}, "xOffset": {"field": "r", "type": "nominal", "scale": {"paddingOuter": 1.5}}}},
  {"data": {"name": "one"}, "mark": {"type": "rule", "color": "#666", "strokeWidth": 0.8},
   "encoding": {"x": {"datum": "BAM15 10 µM"}, "x2": {"datum": "FCCP 1 µM"}, "y": {"datum": 7.84, "type": "quantitative", "title": "OCR (pmol/min/µg)", "scale": {"domain": [0, 8], "range": [132, 0], "nice": false}, "axis": {"values": [0, 2, 4, 6, 8], "format": "d", "titleFontSize": 11, "labelFontSize": 6.5, "tickSize": 3, "labelPadding": 2, "titlePadding": 5, "labelOverlap": false}}}},
  {"data": {"name": "one"}, "mark": {"type": "text", "text": "****", "fontSize": 9, "color": "#555", "baseline": "alphabetic"},
   "encoding": {"x": {"datum": "FCCP 500 nM"}, "y": {"datum": 7.93, "type": "quantitative", "title": "OCR (pmol/min/µg)", "scale": {"domain": [0, 8], "range": [132, 0], "nice": false}, "axis": {"values": [0, 2, 4, 6, 8], "format": "d", "titleFontSize": 11, "labelFontSize": 6.5, "tickSize": 3, "labelPadding": 2, "titlePadding": 5, "labelOverlap": false}}}},
  {"data": {"name": "one"}, "mark": {"type": "rule", "color": "#666", "strokeWidth": 0.8},
   "encoding": {"x": {"datum": "BAM15 10 µM"}, "x2": {"datum": "FCCP 500 nM"}, "y": {"datum": 7.03, "type": "quantitative", "title": "OCR (pmol/min/µg)", "scale": {"domain": [0, 8], "range": [132, 0], "nice": false}, "axis": {"values": [0, 2, 4, 6, 8], "format": "d", "titleFontSize": 11, "labelFontSize": 6.5, "tickSize": 3, "labelPadding": 2, "titlePadding": 5, "labelOverlap": false}}}},
  {"data": {"name": "one"}, "mark": {"type": "text", "text": "****", "fontSize": 9, "color": "#555", "baseline": "alphabetic", "dx": 11.5},
   "encoding": {"x": {"datum": "BAM15 10 µM"}, "y": {"datum": 7.13, "type": "quantitative", "title": "OCR (pmol/min/µg)", "scale": {"domain": [0, 8], "range": [132, 0], "nice": false}, "axis": {"values": [0, 2, 4, 6, 8], "format": "d", "titleFontSize": 11, "labelFontSize": 6.5, "tickSize": 3, "labelPadding": 2, "titlePadding": 5, "labelOverlap": false}}}},
  {"data": {"name": "one"}, "mark": {"type": "rule", "color": "#666", "strokeWidth": 0.8},
   "encoding": {"x": {"datum": "FCCP 500 nM"}, "x2": {"datum": "FCCP 1 µM"}, "y": {"datum": 2.18, "type": "quantitative", "title": "OCR (pmol/min/µg)", "scale": {"domain": [0, 8], "range": [132, 0], "nice": false}, "axis": {"values": [0, 2, 4, 6, 8], "format": "d", "titleFontSize": 11, "labelFontSize": 6.5, "tickSize": 3, "labelPadding": 2, "titlePadding": 5, "labelOverlap": false}}}},
  {"data": {"name": "one"}, "mark": {"type": "text", "text": "ns", "fontSize": 11, "color": "#555", "baseline": "alphabetic", "dx": 11.5},
   "encoding": {"x": {"datum": "FCCP 500 nM"}, "y": {"datum": 2.36, "type": "quantitative", "title": "OCR (pmol/min/µg)", "scale": {"domain": [0, 8], "range": [132, 0], "nice": false}, "axis": {"values": [0, 2, 4, 6, 8], "format": "d", "titleFontSize": 11, "labelFontSize": 6.5, "tickSize": 3, "labelPadding": 2, "titlePadding": 5, "labelOverlap": false}}}},
  {"data": {"name": "one"}, "mark": {"type": "text", "text": "Maximal  Respiration", "fontSize": 11, "color": "#444", "baseline": "middle", "dx": -3},
   "encoding": {"x": {"datum": "FCCP 500 nM"}, "y": {"datum": 9.21, "type": "quantitative", "title": "OCR (pmol/min/µg)", "scale": {"domain": [0, 8], "range": [132, 0], "nice": false}, "axis": {"values": [0, 2, 4, 6, 8], "format": "d", "titleFontSize": 11, "labelFontSize": 6.5, "tickSize": 3, "labelPadding": 2, "titlePadding": 5, "labelOverlap": false}}}}
 ]
},
{
 "width": 82, "height": 132,
 "layer": [
  {"data": {"name": "boxes"}, "transform": [{"filter": "datum.m === 'Spare'"}],
   "mark": {"type": "boxplot", "extent": "min-max", "size": 18, "box": {"stroke": "#444", "strokeWidth": 0.8}, "median": {"color": "#333", "strokeWidth": 1}, "rule": {"color": "#555", "strokeWidth": 0.8}, "ticks": {"color": "#555", "size": 7}},
   "encoding": {
    "x": {"field": "g", "type": "nominal", "scale": {"domain": ["BAM15 10 µM", "FCCP 500 nM", "FCCP 1 µM"], "paddingInner": 0.22, "paddingOuter": 0.39, "align": 0.67}, "axis": {"labels": false, "ticks": false, "title": null}},
    "y": {"field": "v", "type": "quantitative", "title": "OCR (pmol/min/µg)", "scale": {"domain": [-2, 6], "range": [132, 0], "nice": false}, "axis": {"values": [-2, 0, 2, 4, 6], "format": "d", "titleFontSize": 11, "labelFontSize": 6.5, "tickSize": 3, "labelPadding": 2, "titlePadding": 5, "labelOverlap": false}},
    "color": {"field": "g", "type": "nominal", "scale": {"domain": ["BAM15 10 µM", "FCCP 500 nM", "FCCP 1 µM"], "range": ["#8f8f8f", "#cde0f4", "#8ab8e6"]}, "legend": null}}},
  {"data": {"name": "boxes"}, "transform": [{"filter": "datum.m === 'Spare'"}],
   "mark": {"type": "square", "size": 11, "color": "#000", "opacity": 1},
   "encoding": {"x": {"field": "g", "type": "nominal"}, "y": {"field": "v", "type": "quantitative", "title": "OCR (pmol/min/µg)", "scale": {"domain": [-2, 6], "range": [132, 0], "nice": false}, "axis": {"values": [-2, 0, 2, 4, 6], "format": "d", "titleFontSize": 11, "labelFontSize": 6.5, "tickSize": 3, "labelPadding": 2, "titlePadding": 5, "labelOverlap": false}}, "xOffset": {"field": "r", "type": "nominal", "scale": {"paddingOuter": 1.5}}}},
  {"data": {"name": "one"}, "mark": {"type": "rule", "color": "#666", "strokeWidth": 0.8},
   "encoding": {"x": {"datum": "BAM15 10 µM"}, "x2": {"datum": "FCCP 1 µM"}, "y": {"datum": 5.58, "type": "quantitative", "title": "OCR (pmol/min/µg)", "scale": {"domain": [-2, 6], "range": [132, 0], "nice": false}, "axis": {"values": [-2, 0, 2, 4, 6], "format": "d", "titleFontSize": 11, "labelFontSize": 6.5, "tickSize": 3, "labelPadding": 2, "titlePadding": 5, "labelOverlap": false}}}},
  {"data": {"name": "one"}, "mark": {"type": "text", "text": "****", "fontSize": 9, "color": "#555", "baseline": "alphabetic"},
   "encoding": {"x": {"datum": "FCCP 500 nM"}, "y": {"datum": 5.74, "type": "quantitative", "title": "OCR (pmol/min/µg)", "scale": {"domain": [-2, 6], "range": [132, 0], "nice": false}, "axis": {"values": [-2, 0, 2, 4, 6], "format": "d", "titleFontSize": 11, "labelFontSize": 6.5, "tickSize": 3, "labelPadding": 2, "titlePadding": 5, "labelOverlap": false}}}},
  {"data": {"name": "one"}, "mark": {"type": "rule", "color": "#666", "strokeWidth": 0.8},
   "encoding": {"x": {"datum": "BAM15 10 µM"}, "x2": {"datum": "FCCP 500 nM"}, "y": {"datum": 4.83, "type": "quantitative", "title": "OCR (pmol/min/µg)", "scale": {"domain": [-2, 6], "range": [132, 0], "nice": false}, "axis": {"values": [-2, 0, 2, 4, 6], "format": "d", "titleFontSize": 11, "labelFontSize": 6.5, "tickSize": 3, "labelPadding": 2, "titlePadding": 5, "labelOverlap": false}}}},
  {"data": {"name": "one"}, "mark": {"type": "text", "text": "****", "fontSize": 9, "color": "#555", "baseline": "alphabetic", "dx": 11.5},
   "encoding": {"x": {"datum": "BAM15 10 µM"}, "y": {"datum": 4.97, "type": "quantitative", "title": "OCR (pmol/min/µg)", "scale": {"domain": [-2, 6], "range": [132, 0], "nice": false}, "axis": {"values": [-2, 0, 2, 4, 6], "format": "d", "titleFontSize": 11, "labelFontSize": 6.5, "tickSize": 3, "labelPadding": 2, "titlePadding": 5, "labelOverlap": false}}}},
  {"data": {"name": "one"}, "mark": {"type": "rule", "color": "#666", "strokeWidth": 0.8},
   "encoding": {"x": {"datum": "FCCP 500 nM"}, "x2": {"datum": "FCCP 1 µM"}, "y": {"datum": 0.56, "type": "quantitative", "title": "OCR (pmol/min/µg)", "scale": {"domain": [-2, 6], "range": [132, 0], "nice": false}, "axis": {"values": [-2, 0, 2, 4, 6], "format": "d", "titleFontSize": 11, "labelFontSize": 6.5, "tickSize": 3, "labelPadding": 2, "titlePadding": 5, "labelOverlap": false}}}},
  {"data": {"name": "one"}, "mark": {"type": "text", "text": "ns", "fontSize": 11, "color": "#555", "baseline": "alphabetic", "dx": 11.5},
   "encoding": {"x": {"datum": "FCCP 500 nM"}, "y": {"datum": 0.91, "type": "quantitative", "title": "OCR (pmol/min/µg)", "scale": {"domain": [-2, 6], "range": [132, 0], "nice": false}, "axis": {"values": [-2, 0, 2, 4, 6], "format": "d", "titleFontSize": 11, "labelFontSize": 6.5, "tickSize": 3, "labelPadding": 2, "titlePadding": 5, "labelOverlap": false}}}},
  {"data": {"name": "one"}, "mark": {"type": "text", "text": "Spare Respiratory  Capacity", "fontSize": 11, "color": "#444", "baseline": "middle", "dx": -3},
   "encoding": {"x": {"datum": "FCCP 500 nM"}, "y": {"datum": 7.21, "type": "quantitative", "title": "OCR (pmol/min/µg)", "scale": {"domain": [-2, 6], "range": [132, 0], "nice": false}, "axis": {"values": [-2, 0, 2, 4, 6], "format": "d", "titleFontSize": 11, "labelFontSize": 6.5, "tickSize": 3, "labelPadding": 2, "titlePadding": 5, "labelOverlap": false}}}}
 ]
},
{
 "width": 82, "height": 132,
 "layer": [
  {"data": {"name": "boxes"}, "transform": [{"filter": "datum.m === 'NonMito'"}],
   "mark": {"type": "boxplot", "extent": "min-max", "size": 18, "box": {"stroke": "#444", "strokeWidth": 0.8}, "median": {"color": "#333", "strokeWidth": 1}, "rule": {"color": "#555", "strokeWidth": 0.8}, "ticks": {"color": "#555", "size": 7}},
   "encoding": {
    "x": {"field": "g", "type": "nominal", "scale": {"domain": ["BAM15 10 µM", "FCCP 500 nM", "FCCP 1 µM"], "paddingInner": 0.22, "paddingOuter": 0.39, "align": 0.67}, "axis": {"labels": false, "ticks": false, "title": null}},
    "y": {"field": "v", "type": "quantitative", "title": "OCR (pmol/min/µg)", "scale": {"domain": [0, 1.5], "range": [132, 0], "nice": false}, "axis": {"values": [0, 0.5, 1, 1.5], "format": ".1f", "titleFontSize": 11, "labelFontSize": 6.5, "tickSize": 3, "labelPadding": 2, "titlePadding": 5, "labelOverlap": false}},
    "color": {"field": "g", "type": "nominal", "scale": {"domain": ["BAM15 10 µM", "FCCP 500 nM", "FCCP 1 µM"], "range": ["#8f8f8f", "#cde0f4", "#8ab8e6"]}, "legend": null}}},
  {"data": {"name": "boxes"}, "transform": [{"filter": "datum.m === 'NonMito'"}],
   "mark": {"type": "square", "size": 11, "color": "#000", "opacity": 1},
   "encoding": {"x": {"field": "g", "type": "nominal"}, "y": {"field": "v", "type": "quantitative", "title": "OCR (pmol/min/µg)", "scale": {"domain": [0, 1.5], "range": [132, 0], "nice": false}, "axis": {"values": [0, 0.5, 1, 1.5], "format": ".1f", "titleFontSize": 11, "labelFontSize": 6.5, "tickSize": 3, "labelPadding": 2, "titlePadding": 5, "labelOverlap": false}}, "xOffset": {"field": "r", "type": "nominal", "scale": {"paddingOuter": 1.5}}}},
  {"data": {"name": "one"}, "mark": {"type": "rule", "color": "#666", "strokeWidth": 0.8},
   "encoding": {"x": {"datum": "BAM15 10 µM"}, "x2": {"datum": "FCCP 1 µM"}, "y": {"datum": 1.37, "type": "quantitative", "title": "OCR (pmol/min/µg)", "scale": {"domain": [0, 1.5], "range": [132, 0], "nice": false}, "axis": {"values": [0, 0.5, 1, 1.5], "format": ".1f", "titleFontSize": 11, "labelFontSize": 6.5, "tickSize": 3, "labelPadding": 2, "titlePadding": 5, "labelOverlap": false}}}},
  {"data": {"name": "one"}, "mark": {"type": "text", "text": "ns", "fontSize": 11, "color": "#555", "baseline": "alphabetic"},
   "encoding": {"x": {"datum": "FCCP 500 nM"}, "y": {"datum": 1.41, "type": "quantitative", "title": "OCR (pmol/min/µg)", "scale": {"domain": [0, 1.5], "range": [132, 0], "nice": false}, "axis": {"values": [0, 0.5, 1, 1.5], "format": ".1f", "titleFontSize": 11, "labelFontSize": 6.5, "tickSize": 3, "labelPadding": 2, "titlePadding": 5, "labelOverlap": false}}}},
  {"data": {"name": "one"}, "mark": {"type": "text", "text": "Non-mitochondrial", "fontSize": 10.6, "color": "#444", "baseline": "middle", "dx": -2},
   "encoding": {"x": {"datum": "FCCP 500 nM"}, "y": {"datum": 1.795, "type": "quantitative", "title": "OCR (pmol/min/µg)", "scale": {"domain": [0, 1.5], "range": [132, 0], "nice": false}, "axis": {"values": [0, 0.5, 1, 1.5], "format": ".1f", "titleFontSize": 11, "labelFontSize": 6.5, "tickSize": 3, "labelPadding": 2, "titlePadding": 5, "labelOverlap": false}}}},
  {"data": {"name": "one"}, "mark": {"type": "text", "text": "O₂ consumption", "fontSize": 10.6, "color": "#444", "baseline": "middle", "dx": -2},
   "encoding": {"x": {"datum": "FCCP 500 nM"}, "y": {"datum": 1.659, "type": "quantitative", "title": "OCR (pmol/min/µg)", "scale": {"domain": [0, 1.5], "range": [132, 0], "nice": false}, "axis": {"values": [0, 0.5, 1, 1.5], "format": ".1f", "titleFontSize": 11, "labelFontSize": 6.5, "tickSize": 3, "labelPadding": 2, "titlePadding": 5, "labelOverlap": false}}}}
 ]
}
]
}
